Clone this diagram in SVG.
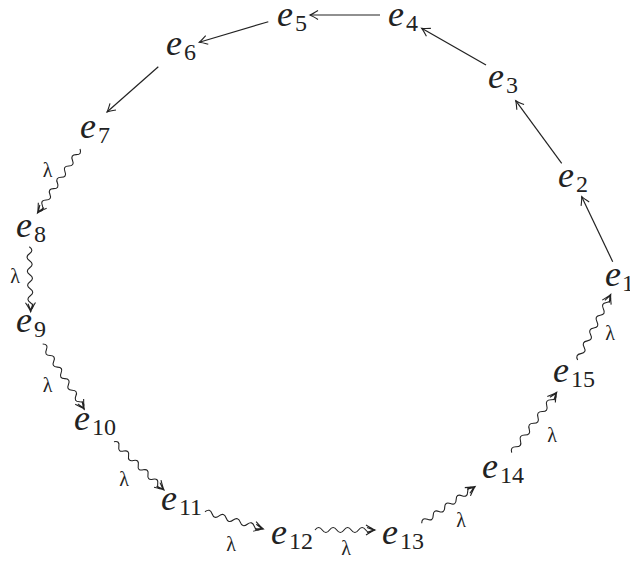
<svg xmlns="http://www.w3.org/2000/svg" width="630" height="562" viewBox="0 0 630 562">
<style>
.n{font-style:italic;font-size:36px;fill:#222}
.s{font-style:normal;font-size:24px}
.l{font-size:20px;fill:#222;text-anchor:middle}
.a{stroke:#222;stroke-width:1.2;fill:none;marker-end:url(#ah)}
.w{stroke:#222;stroke-width:1.1;fill:none;marker-end:url(#dh)}
</style>
<defs>
<marker id="ah" markerUnits="userSpaceOnUse" viewBox="-10 -6 12 12" refX="0" refY="0" markerWidth="12" markerHeight="12" orient="auto" overflow="visible">
<path d="M-8,-4.5 Q-2.5,-1 0,0 Q-2.5,1 -8,4.5" fill="none" stroke="#222" stroke-width="1.1"/>
</marker>
<marker id="dh" markerUnits="userSpaceOnUse" viewBox="-10 -6 12 12" refX="0" refY="0" markerWidth="12" markerHeight="12" orient="auto" overflow="visible">
<path d="M-9,-5 Q-3,-1.2 0,0 Q-3,1.2 -9,5 M-8,-2.5 L-1.5,0 L-8,2.5" fill="none" stroke="#222" stroke-width="1.1"/>
</marker>
</defs>
<g id="connectors">
<path class="a" d="M612.7,261.7 L581.7,196.7"/>
<path class="a" d="M561.7,163.3 L515.7,100.7"/>
<path class="a" d="M486,65 L421.7,28.3"/>
<path class="a" d="M380,15 L310,15"/>
<path class="a" d="M268.3,21.7 L199.3,42.3"/>
<path class="a" d="M158.3,66.7 L107,112"/>
<path class="w" transform="translate(80,149) rotate(123.6)" d="M0 0 q3.4 -5 6.8 0 t6.8 0 t6.8 0 t6.8 0 t6.8 0 t6.8 0 t6.8 0 t6.8 0 t6.8 0 t6.8 0 t6.8 0 h2"/>
<path class="w" transform="translate(29.3,246.7) rotate(88.8)" d="M0 0 q3.5 -5 7 0 t7 0 t7 0 t7 0 t7 0 t7 0 t7 0 t7 0 t7 0 h2"/>
<path class="w" transform="translate(42.7,344) rotate(57.5)" d="M0 0 q3.43 -5 6.85 0 t6.85 0 t6.85 0 t6.85 0 t6.85 0 t6.85 0 t6.85 0 t6.85 0 t6.85 0 t6.85 0 t6.85 0 h2"/>
<path class="w" transform="translate(114,441.7) rotate(44)" d="M0 0 q3.38 -5 6.75 0 t6.75 0 t6.75 0 t6.75 0 t6.75 0 t6.75 0 t6.75 0 t6.75 0 t6.75 0 t6.75 0 h2"/>
<path class="w" transform="translate(205,511.7) rotate(16.5)" d="M0 0 q3.68 -5 7.35 0 t7.35 0 t7.35 0 t7.35 0 t7.35 0 t7.35 0 t7.35 0 t7.35 0 h2"/>
<path class="w" transform="translate(315,530)" d="M0 0 q3.63 -5 7.25 0 t7.25 0 t7.25 0 t7.25 0 t7.25 0 t7.25 0 t7.25 0 t7.25 0 h2"/>
<path class="w" transform="translate(421.7,523.3) rotate(-34.5)" d="M0 0 q3.49 -5 6.97 0 t6.97 0 t6.97 0 t6.97 0 t6.97 0 t6.97 0 t6.97 0 t6.97 0 t6.97 0 h2"/>
<path class="w" transform="translate(511.7,452.7) rotate(-53.3)" d="M0 0 q3.67 -5 7.33 0 t7.33 0 t7.33 0 t7.33 0 t7.33 0 t7.33 0 t7.33 0 t7.33 0 t7.33 0 t7.33 0 h2"/>
<path class="w" transform="translate(577.7,360) rotate(-63.3)" d="M0 0 q3.58 -5 7.15 0 t7.15 0 t7.15 0 t7.15 0 t7.15 0 t7.15 0 t7.15 0 t7.15 0 t7.15 0 t7.15 0 h2"/>
<g font-family="Liberation Serif, serif">
<text class="l" x="47.5" y="176.5">λ</text>
<text class="l" x="15" y="283">λ</text>
<text class="l" x="47.5" y="391.5">λ</text>
<text class="l" x="124" y="486">λ</text>
<text class="l" x="231" y="551">λ</text>
<text class="l" x="346" y="555">λ</text>
<text class="l" x="461" y="526.5">λ</text>
<text class="l" x="552" y="441.5">λ</text>
<text class="l" x="610" y="340">λ</text>
</g>
</g>
<g font-family="Liberation Serif, serif">
<g id="e1"><text class="n" x="605" y="286">e<tspan class="s" dx="1" dy="5">1</tspan></text></g>
<g id="e2"><text class="n" x="558" y="187">e<tspan class="s" dx="2" dy="5">2</tspan></text></g>
<g id="e3"><text class="n" x="488" y="88">e<tspan class="s" dx="2" dy="5">3</tspan></text></g>
<g id="e4"><text class="n" x="388" y="26">e<tspan class="s" dx="2" dy="5">4</tspan></text></g>
<g id="e5"><text class="n" x="277" y="26">e<tspan class="s" dx="2" dy="5">5</tspan></text></g>
<g id="e6"><text class="n" x="166" y="55">e<tspan class="s" dx="2" dy="5">6</tspan></text></g>
<g id="e7"><text class="n" x="80" y="138">e<tspan class="s" dx="2" dy="5">7</tspan></text></g>
<g id="e8"><text class="n" x="16" y="237">e<tspan class="s" dx="2" dy="5">8</tspan></text></g>
<g id="e9"><text class="n" x="16" y="332">e<tspan class="s" dx="2" dy="5">9</tspan></text></g>
<g id="e10"><text class="n" x="74" y="430">e<tspan class="s" dx="2" dy="5">10</tspan></text></g>
<g id="e11"><text class="n" x="161" y="510">e<tspan class="s" dx="2" dy="5">11</tspan></text></g>
<g id="e12"><text class="n" x="271" y="544">e<tspan class="s" dx="2" dy="5">12</tspan></text></g>
<g id="e13"><text class="n" x="382" y="544">e<tspan class="s" dx="2" dy="5">13</tspan></text></g>
<g id="e14"><text class="n" x="482" y="478">e<tspan class="s" dx="2" dy="5">14</tspan></text></g>
<g id="e15"><text class="n" x="553" y="382">e<tspan class="s" dx="2" dy="5">15</tspan></text></g>
</g>
</svg>
